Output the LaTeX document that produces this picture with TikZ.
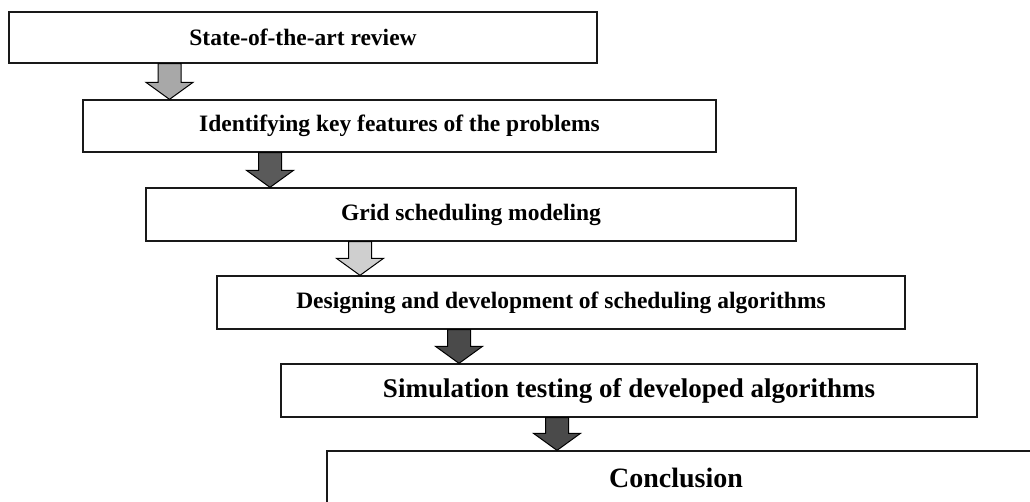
\documentclass[tikz,border=0pt]{standalone}
\usepackage{fontspec}
\setmainfont{Liberation Serif}
\usetikzlibrary{calc}
\definecolor{gA}{HTML}{A8A8A8}
\definecolor{gB}{HTML}{5A5A5A}
\definecolor{gC}{HTML}{CFCFCF}
\definecolor{gD}{HTML}{4A4A4A}
\newcommand\barrowdraw[4]{%
  \draw[barrowline, fill=#4]
    ($(#1.south -| #3)+(-11.5,0)$) -- ($(#1.south -| #3)+(11.5,0)$)
    -- ($(#2.north -| #3)+(11.5,-17)$) -- ($(#2.north -| #3)+(23.5,-17)$)
    -- (#2.north -| #3) -- ($(#2.north -| #3)+(-23.5,-17)$)
    -- ($(#2.north -| #3)+(-11.5,-17)$) -- cycle;}
\begin{document}
\begin{tikzpicture}[x=1pt, y=-1pt,
  stagebox/.style={draw=black!90, line width=1.3pt, fill=white, inner sep=0pt,
    font=\fontsize{23.5}{28}\selectfont\bfseries},
  bigbox/.style={stagebox, font=\fontsize{27}{32}\selectfont\bfseries},
  barrowline/.style={draw=black, line width=1pt, line join=miter}]
\useasboundingbox (0,0) rectangle (1030,501);
\clip (0,0) rectangle (1030,501);
\fill[white] (0,0) rectangle (1030,501);

\node[stagebox, minimum width=588pt, minimum height=51pt] (b1) at (303,37.5) {State-of-the-art review};
\node[stagebox, minimum width=633pt, minimum height=52pt] (b2) at (399.5,126) {Identifying key features of the problems};
\node[stagebox, minimum width=650pt, minimum height=53pt] (b3) at (471,214.5) {Grid scheduling modeling};
\node[stagebox, minimum width=688pt, minimum height=53pt] (b4) at (561,302.5) {Designing and development of scheduling algorithms};
\node[bigbox, minimum width=696pt, minimum height=53pt] (b5) at (629,390.5) {Simulation testing of developed algorithms};
\node[stagebox, minimum width=740pt, minimum height=60pt] (b6) at (697,481) {};
\node[font=\fontsize{28}{33}\selectfont\bfseries, inner sep=0pt] (t6) at (676,478) {Conclusion};

\coordinate (a1) at (169.5,0);
\coordinate (a2) at (270,0);
\coordinate (a3) at (360,0);
\coordinate (a4) at (459,0);
\coordinate (a5) at (557,0);

\barrowdraw{b1}{b2}{a1}{gA}
\barrowdraw{b2}{b3}{a2}{gB}
\barrowdraw{b3}{b4}{a3}{gC}
\barrowdraw{b4}{b5}{a4}{gD}
\barrowdraw{b5}{b6}{a5}{gD}
\end{tikzpicture}
\end{document}
